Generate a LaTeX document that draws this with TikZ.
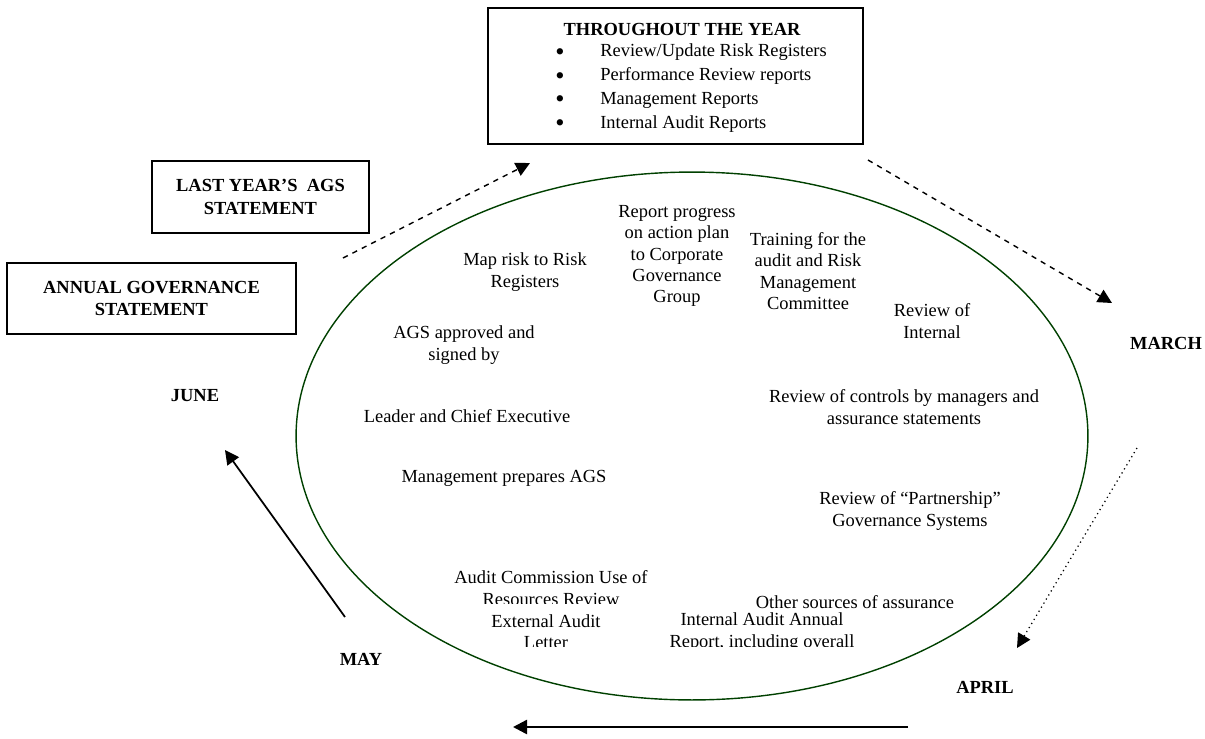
\documentclass[tikz,border=0pt]{standalone}
\usepackage{fontspec}
\setmainfont{Liberation Serif}
\usetikzlibrary{arrows.meta}
\definecolor{ringgreen}{RGB}{0,64,0}
\tikzset{
  item/.style={align=center, font=\fontsize{10.5}{12.1}\selectfont},
  month/.style={font=\fontsize{10.5}{12.6}\selectfont\bfseries},
  stmtbox/.style={draw, line width=0.9pt, align=center, inner sep=0pt,
    font=\fontsize{10.5}{12.6}\selectfont\bfseries},
  tri/.style={-{Triangle[length=8pt,width=8pt]}},
}
\newcommand{\yearbullet}{\makebox[0.9cm][l]{\smash{\raisebox{-2pt}{\fontsize{15}{13.5}\selectfont\textbullet}}}}
\begin{document}
\begin{tikzpicture}[x=0.02cm, y=-0.02cm]
  \useasboundingbox (0,0) rectangle (1205,738);
  % the yearly cycle
  \draw[ringgreen, line width=0.8pt] (692,436) ellipse [x radius=7.92cm, y radius=5.28cm];
  % boxes
  \node[stmtbox, minimum width=7.5cm, minimum height=2.72cm] (year) at (675.5,76) {};
  \node[month] (yeartitle) at (682,29) {THROUGHOUT THE YEAR};
  \node[anchor=west, align=left, inner sep=0pt, font=\fontsize{10.5}{13.5}\selectfont] (yearlist) at (555,88) {%
    \yearbullet Review/Update Risk Registers\\
    \yearbullet Performance Review reports\\
    \yearbullet Management Reports\\
    \yearbullet Internal Audit Reports};
  \node[stmtbox, minimum width=4.34cm, minimum height=1.44cm] (lastags) at (260.5,197) {LAST YEAR'S\ \ AGS\\STATEMENT};
  \node[stmtbox, minimum width=5.78cm, minimum height=1.42cm] (annual) at (151.5,298.5) {ANNUAL GOVERNANCE\\STATEMENT};
  % months
  \node[month] (june) at (195,396) {JUNE};
  \node[month] (march) at (1166,343) {MARCH};
  \node[month] (april) at (985,687) {APRIL};
  \node[month] (may) at (361,659) {MAY};
  % inside the ring
  \node[item] (maprisk) at (525,272) {Map risk to Risk\\Registers};
  \node[item] (agsok) at (464,345) {AGS approved and\\signed by};
  \node[item] (leader) at (467,416) {Leader and Chief Executive};
  \node[item] (progress) at (677,256) {Report progress\\on action plan\\to Corporate\\Governance\\Group};
  \node[item] (training) at (808,271) {Training for the\\audit and Risk\\Management\\Committee};
  \node[item] (revint) at (932,321) {Review of\\Internal};
  \node[item] (revctrl) at (904,407) {Review of controls by managers and\\assurance statements};
  \node[item] (mgmtags) at (504,478) {Management prepares AGS};
  \node[item] (revpart) at (910,511) {Review of ``Partnership''\\Governance Systems};
  \node[item] (other) at (855,602) {Other sources of assurance};
  % text boxes cut off at the bottom
  \begin{scope}
    \clip (430,560) rectangle (670,603);
    \node[item] (auditcom) at (551,588) {Audit Commission Use of\\Resources Review};
  \end{scope}
  \begin{scope}
    \clip (460,610) rectangle (880,646);
    \node[item] (extaudit) at (546,632) {External Audit\\Letter};
    \node[item] (intaudit) at (762,632) {Internal Audit Annual\\Report, including overall};
  \end{scope}
  % arrow ends
  \coordinate (lastout) at (343,258);
  \coordinate (yearin) at (530,163);
  \coordinate (yearout) at (868,160);
  \coordinate (marchin) at (1112,303);
  \coordinate (marchout) at (1137,448);
  \coordinate (aprilin) at (1017,648);
  \coordinate (aprilout) at (908,727);
  \coordinate (mayin) at (513,727);
  \coordinate (mayout) at (345,617);
  \coordinate (junein) at (225,450);
  \draw[tri, dashed, line width=0.8pt] (lastout) -- (yearin);
  \draw[tri, dashed, line width=0.8pt] (yearout) -- (marchin);
  \draw[tri, dotted, line width=0.7pt] (marchout) -- (aprilin);
  \draw[tri, line width=1.4pt] (aprilout) -- (mayin);
  \draw[tri, line width=1pt] (mayout) -- (junein);
\end{tikzpicture}
\end{document}
